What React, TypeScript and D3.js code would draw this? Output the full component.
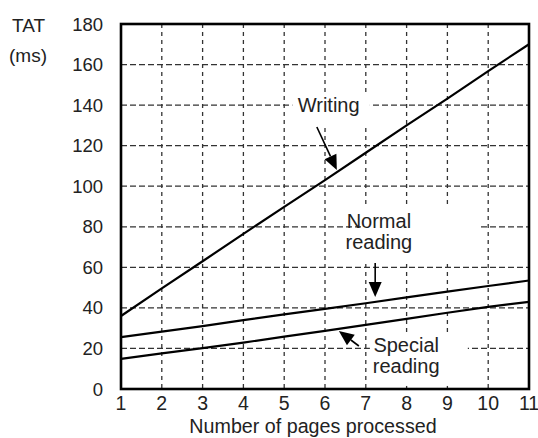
import React from "react";
import * as d3 from "d3";

const pages = [1, 2, 3, 4, 5, 6, 7, 8, 9, 10, 11];
const writing = [36, 49.6, 63, 76.5, 89.8, 103, 116.5, 130, 143.2, 156.8, 170];
const normalReading = [25.6, 28.3, 31, 34, 36.8, 39.5, 42.3, 45.2, 48, 50.8, 53.5];
const specialReading = [14.9, 17.6, 20.2, 22.9, 25.8, 28.7, 31.6, 34.6, 37.6, 40.5, 43];
const yTicks = [0, 20, 40, 60, 80, 100, 120, 140, 160, 180];
const xTicks = [1, 2, 3, 4, 5, 6, 7, 8, 9, 10, 11];
const xTitle = "Number of pages processed";
const yTitle = ["TAT", "(ms)"];

// annotations in data units
const annotations = [
  { lines: ["Writing"], x: 6.09, y: [136.6], from: [5.8, 129.2], to: [6.29, 108], box: [5.2, 7.1, 145, 130] },
  { lines: ["Normal", "reading"], x: 7.32, y: [79.4, 69], from: [7.23, 62.1], to: [7.23, 45.4], box: [6.93, 9.78, 90.5, 62.5] },
  { lines: ["Special", "reading"], x: 7.99, y: [18.4, 7.9], from: [6.83, 21.2], to: [6.34, 28.6], box: [7.1, 9.5, 27.5, 1.5] },
];

const W = 538, H = 438;
const FONT = "'Liberation Sans', Arial, Helvetica, sans-serif";

function T({ x, y, anchor = "start", size = 20, children }: any) {
  return (
    <text x={x} y={y} textAnchor={anchor} fontFamily={FONT} fontSize={size} fill="#222">
      {children}
    </text>
  );
}

export default function App() {
  const x = d3.scaleLinear().domain([1, 11]).range([121, 529]);
  const y = d3.scaleLinear().domain([0, 180]).range([389, 24]);
  const line = d3
    .line<number>()
    .x((_, i) => x(pages[i]))
    .y((d) => y(d));

  const arrowHead = (fx: number, fy: number, tx: number, ty: number) => {
    const ang = Math.atan2(ty - fy, tx - fx);
    const L = 15, Wd = 6.5;
    const bx = tx - L * Math.cos(ang), by = ty - L * Math.sin(ang);
    const px = -Math.sin(ang) * Wd, py = Math.cos(ang) * Wd;
    return { d: `M${tx},${ty}L${bx + px},${by + py}L${bx - px},${by - py}Z`, bx, by };
  };

  return (
    <svg width={W} height={H} style={{ position: "absolute", left: 0, top: 0, background: "#fff" }}>
      <rect x={0} y={0} width={W} height={H} fill="#fff" />
      {/* grid */}
      {xTicks.slice(1, -1).map((t) => (
        <line key={"gx" + t} x1={x(t)} x2={x(t)} y1={y(180)} y2={y(0)} stroke="#333" strokeWidth={1.3} strokeDasharray="4,4" />
      ))}
      {yTicks.slice(1, -1).map((t) => (
        <line key={"gy" + t} x1={x(1)} x2={x(11)} y1={y(t)} y2={y(t)} stroke="#333" strokeWidth={1.3} strokeDasharray="6,3" />
      ))}
      {/* label boxes */}
      {annotations.map((a, i) => (
        <rect key={"b" + i} x={x(a.box[0])} y={y(a.box[2])} width={x(a.box[1]) - x(a.box[0])} height={y(a.box[3]) - y(a.box[2])} fill="#fff" />
      ))}
      {/* series */}
      {[writing, normalReading, specialReading].map((s, i) => (
        <path key={"s" + i} d={line(s) || ""} fill="none" stroke="#000" strokeWidth={2.2} />
      ))}
      {/* frame */}
      <rect x={x(1)} y={y(180)} width={x(11) - x(1)} height={y(0) - y(180)} fill="none" stroke="#000" strokeWidth={2.6} />
      {/* annotations */}
      {annotations.map((a, i) => {
        const fx = x(a.from[0]), fy = y(a.from[1]), tx = x(a.to[0]), ty = y(a.to[1]);
        const h = arrowHead(fx, fy, tx, ty);
        return (
          <g key={"a" + i}>
            {a.lines.map((l, j) => (
              <T key={j} x={x(a.x)} y={y(a.y[j])} anchor="middle">{l}</T>
            ))}
            <line x1={fx} y1={fy} x2={h.bx} y2={h.by} stroke="#000" strokeWidth={1.6} />
            <path d={h.d} fill="#000" />
          </g>
        );
      })}
      {/* y tick labels */}
      {yTicks.map((t) => (
        <T key={"yt" + t} x={103} y={y(t) + 6.5} anchor="end" size={18.5}>{t}</T>
      ))}
      {/* x tick labels */}
      {xTicks.map((t) => (
        <T key={"xt" + t} x={x(t)} y={410} anchor="middle" size={19.5}>{t}</T>
      ))}
      <T x={12} y={32} size={19}>{yTitle[0]}</T>
      <T x={9} y={62} size={19}>{yTitle[1]}</T>
      <T x={313} y={433} anchor="middle" size={19.7}>{xTitle}</T>
    </svg>
  );
}
